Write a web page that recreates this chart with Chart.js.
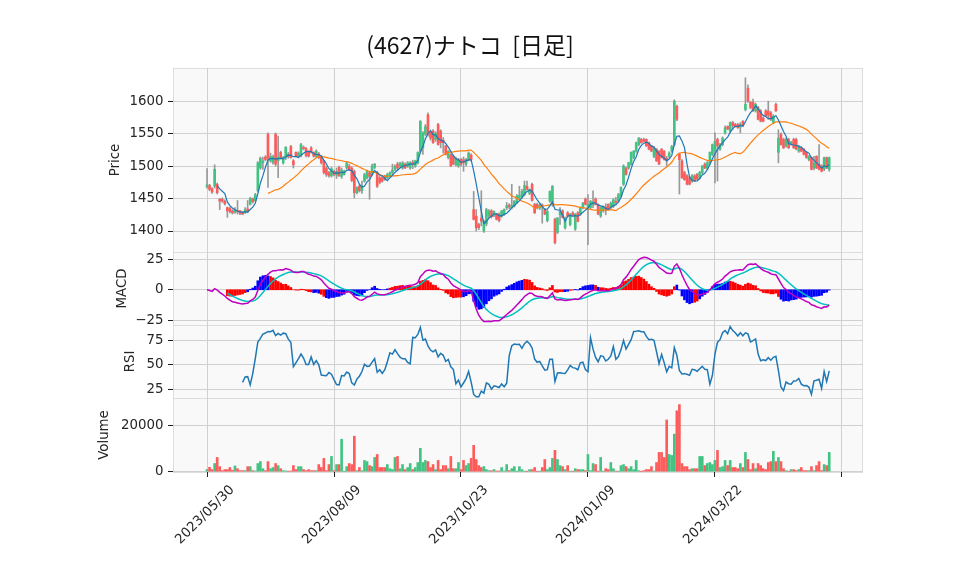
<!DOCTYPE html>
<html>
<head>
<meta charset="utf-8">
<script src="https://cdn.jsdelivr.net/npm/chart.js@4.4.1/dist/chart.umd.min.js"></script>
<style>
  body { margin: 0; background: #fff; }
  #wrap { position: relative; width: 958px; height: 575px; }
  #wrap canvas { position: absolute; left: 0; top: 0; }
  #title { position: absolute; left: 270px; width: 400px; top: 28px; text-align: center;
           font: 23px "Noto Sans CJK JP", sans-serif; color: #111; line-height: 32px; }
</style>
</head>
<body>
<div id="wrap">
  <canvas id="cPrice" width="958" height="575"></canvas>
  <canvas id="cMacd" width="958" height="575"></canvas>
  <canvas id="cRsi" width="958" height="575"></canvas>
  <canvas id="cVol" width="958" height="575"></canvas>
  <div id="title">(4627)ナトコ&nbsp; [日足]</div>
</div>
<script>
// x ticks (bar index) and their date labels
const tickPos = [0, 50, 100, 150, 200, 250];
const tickLabels = ['2023/05/30', '2023/08/09', '2023/10/23', '2024/01/09', '2024/03/22', ''];

const priceTicks = [1400, 1450, 1500, 1550, 1600];
const macdTicks = [-25, 0, 25];
const rsiTicks = [25, 50, 75];
const volTicks = [0, 20000];

// daily candles
const opens = [1468,1470,1465,1469,1472,1449,1449,1446,1436,1435,1431,1429,1432,1431,1429,1428,1434,1441,1450,1447,
  1462,1497,1505,1514,1549,1508,1505,1549,1508,1521,1505,1513,1518,1530,1508,1521,1515,1516,1529,1527,
  1523,1528,1521,1515,1519,1515,1508,1497,1490,1485,1492,1486,1498,1484,1487,1497,1500,1497,1492,1459,
  1469,1462,1477,1482,1490,1487,1498,1490,1482,1482,1485,1482,1485,1490,1495,1503,1500,1497,1503,1500,
  1497,1506,1500,1505,1523,1528,1549,1579,1551,1554,1541,1564,1554,1540,1531,1513,1518,1515,1502,1500,
  1510,1510,1503,1510,1517,1433,1423,1410,1420,1400,1411,1423,1431,1424,1426,1426,1423,1426,1436,1440,
  1436,1439,1444,1451,1452,1456,1469,1458,1472,1441,1441,1435,1440,1433,1416,1446,1441,1418,1398,1425,
  1431,1405,1428,1410,1428,1403,1428,1426,1436,1449,1436,1436,1440,1449,1441,1423,1431,1437,1441,1436,
  1438,1446,1446,1454,1472,1497,1497,1503,1513,1523,1533,1541,1541,1541,1536,1531,1515,1526,1523,1526,
  1523,1512,1515,1523,1533,1592,1518,1508,1490,1485,1482,1477,1485,1487,1482,1490,1503,1497,1505,1518,
  1523,1541,1526,1533,1551,1561,1554,1567,1564,1564,1560,1569,1587,1620,1598,1598,1585,1590,1585,1574,
  1585,1585,1582,1567,1595,1521,1549,1541,1531,1541,1534,1541,1541,1523,1528,1526,1521,1510,1513,1497,
  1515,1503,1500,1495,1513,1495];
const highs = [1496,1472,1467,1502,1474,1450,1451,1448,1437,1437,1433,1436,1447,1432,1430,1436,1447,1452,1451,1458,
  1507,1514,1514,1516,1551,1520,1517,1551,1546,1523,1515,1530,1521,1532,1510,1522,1522,1535,1531,1529,
  1524,1530,1522,1525,1521,1516,1509,1500,1492,1498,1494,1497,1500,1497,1494,1506,1503,1499,1494,1468,
  1471,1477,1489,1494,1491,1503,1504,1492,1484,1484,1486,1489,1491,1503,1502,1506,1506,1507,1505,1507,
  1507,1509,1509,1522,1570,1553,1564,1582,1553,1556,1553,1566,1556,1544,1532,1524,1519,1517,1514,1512,
  1512,1514,1512,1522,1519,1461,1433,1412,1462,1417,1435,1433,1433,1431,1427,1428,1432,1434,1444,1442,
  1472,1447,1456,1469,1464,1477,1477,1465,1474,1443,1443,1442,1442,1435,1432,1462,1470,1420,1421,1436,
  1433,1422,1430,1427,1430,1427,1430,1437,1444,1451,1456,1447,1462,1451,1442,1437,1439,1442,1442,1445,
  1450,1452,1458,1468,1502,1499,1506,1522,1524,1537,1544,1543,1543,1542,1537,1532,1530,1527,1524,1527,
  1524,1515,1522,1532,1602,1594,1520,1510,1492,1487,1484,1487,1487,1489,1492,1501,1505,1507,1522,1534,
  1551,1543,1535,1545,1562,1562,1568,1569,1566,1566,1567,1570,1636,1625,1600,1603,1597,1592,1587,1576,
  1587,1600,1584,1579,1597,1556,1551,1543,1543,1543,1538,1543,1543,1532,1530,1527,1522,1516,1514,1515,
  1516,1533,1502,1514,1514,1514];
const lows = [1466,1462,1458,1466,1457,1433,1444,1440,1421,1428,1426,1427,1426,1425,1425,1427,1428,1440,1443,1446,
  1460,1495,1495,1508,1467,1506,1503,1500,1482,1511,1503,1510,1512,1512,1497,1514,1513,1514,1525,1514,
  1514,1520,1514,1513,1511,1503,1488,1484,1483,1483,1485,1481,1484,1481,1486,1495,1494,1476,1451,1457,
  1460,1458,1475,1480,1449,1485,1496,1467,1473,1475,1478,1480,1483,1486,1493,1494,1498,1495,1496,1498,
  1495,1496,1498,1503,1520,1518,1547,1546,1540,1535,1538,1532,1528,1520,1517,1511,1499,1502,1500,1498,
  1500,1492,1500,1508,1508,1417,1400,1402,1408,1398,1408,1420,1420,1422,1417,1414,1421,1424,1433,1434,
  1434,1437,1442,1448,1450,1454,1463,1456,1446,1427,1434,1433,1412,1425,1414,1444,1438,1380,1396,1410,
  1420,1403,1422,1408,1422,1401,1414,1424,1434,1440,1379,1434,1436,1440,1425,1421,1429,1425,1433,1434,
  1436,1440,1444,1452,1470,1486,1495,1501,1511,1521,1531,1535,1537,1530,1525,1522,1513,1507,1502,1512,
  1509,1500,1513,1521,1531,1570,1457,1481,1478,1471,1471,1475,1476,1479,1480,1488,1496,1495,1503,1516,
  1474,1477,1524,1531,1549,1556,1552,1556,1560,1558,1551,1561,1585,1598,1588,1584,1583,1571,1568,1568,
  1576,1572,1570,1565,1584,1505,1532,1527,1529,1527,1532,1527,1525,1521,1522,1517,1512,1508,1494,1494,
  1496,1494,1491,1493,1496,1492];
const closes = [1471,1464,1460,1495,1459,1446,1446,1442,1431,1430,1428,1433,1430,1427,1426,1433,1430,1450,1445,1456,
  1505,1512,1508,1510,1512,1515,1514,1503,1514,1513,1513,1529,1515,1513,1502,1516,1520,1533,1527,1516,
  1515,1521,1515,1523,1513,1505,1490,1487,1485,1496,1487,1492,1485,1494,1492,1505,1495,1478,1459,1467,
  1462,1470,1487,1492,1484,1500,1503,1469,1475,1477,1480,1487,1490,1494,1500,1497,1504,1505,1497,1505,
  1505,1503,1508,1521,1569,1551,1561,1549,1543,1536,1551,1533,1536,1536,1518,1523,1500,1503,1512,1510,
  1503,1505,1510,1520,1510,1418,1405,1405,1415,1415,1433,1431,1422,1430,1418,1416,1431,1433,1439,1437,
  1440,1446,1454,1455,1461,1470,1464,1464,1447,1428,1436,1440,1437,1426,1430,1461,1469,1382,1420,1430,
  1421,1420,1423,1426,1424,1426,1415,1436,1443,1441,1441,1446,1445,1441,1426,1436,1438,1433,1434,1443,
  1448,1444,1456,1467,1500,1487,1505,1521,1523,1536,1543,1536,1538,1531,1526,1523,1528,1508,1503,1513,
  1510,1508,1520,1530,1600,1572,1510,1482,1479,1472,1472,1485,1477,1480,1490,1500,1497,1505,1521,1533,
  1538,1531,1533,1543,1559,1557,1567,1562,1561,1559,1564,1562,1595,1600,1590,1585,1595,1572,1569,1569,
  1577,1578,1572,1577,1585,1543,1533,1528,1541,1528,1537,1528,1526,1531,1523,1518,1513,1515,1495,1505,
  1497,1495,1492,1513,1497,1513];
const volumes = [900,1900,900,3550,6200,2200,450,900,900,1800,600,2500,1300,450,450,450,2200,2200,450,300,
  3550,4400,1300,450,4400,1300,1800,3550,2650,1300,450,300,150,300,2650,900,2200,2200,900,450,
  900,450,450,450,3100,1800,5800,450,3100,6650,450,3100,3100,14200,150,2200,3550,3100,15500,450,
  1800,450,4900,4400,2650,2200,6200,7500,1800,1800,1800,3100,1300,900,6200,6650,1300,3100,900,1800,
  3550,900,1800,4000,10200,4000,4900,4400,1800,3100,900,4900,900,2650,2650,1300,6650,1300,1300,4000,
  900,4900,2650,3550,5800,11500,5300,2650,1800,2200,900,450,450,900,300,300,1800,300,3100,450,
  1300,2200,150,2200,900,150,150,900,900,1800,150,150,1800,5300,900,1800,5800,9300,5300,2650,
  2200,900,2650,150,150,1300,900,900,900,450,7500,450,3550,3100,150,6200,150,1300,900,4000,
  1300,300,150,2650,3100,2200,1300,2200,900,4900,450,150,450,900,900,2200,300,4000,8400,8400,
  6200,22600,7500,7100,16400,26600,29300,3550,2200,2200,900,1300,1300,1300,6650,6650,2650,3550,4000,3100,
  4900,9300,1800,2200,4900,2650,4900,1800,1800,1300,3550,1800,8400,5300,900,3550,1300,3550,2650,1300,
  900,4000,4400,8900,4400,6200,4400,1300,450,150,900,900,450,900,1800,450,450,450,2200,450,
  2650,4400,450,3100,2650,8400];

const UP = '#43c383', DOWN = '#fe5b5b';

// indicators
function sma(arr, n) {
  return arr.map((v, i) => {
    if (i < n - 1) return null;
    let s = 0;
    for (let j = i - n + 1; j <= i; j++) s += arr[j];
    return s / n;
  });
}
function ema(arr, n) {
  const k = 2 / (n + 1);
  let prev = null;
  return arr.map(v => { prev = prev === null ? v : v * k + prev * (1 - k); return prev; });
}
const ma5 = sma(closes, 5);
const ma25 = sma(closes, 25);
const e12 = ema(closes, 12), e26 = ema(closes, 26);
const macd = closes.map((c, i) => e12[i] - e26[i]);
const sigFull = ema(macd, 9);
const signal = sigFull.map((v, i) => i < 8 ? null : v);
const hist = macd.map((m, i) => signal[i] === null ? null : m - signal[i]);
const rsi = closes.map((c, i) => {
  if (i < 14) return null;
  let g = 0, l = 0;
  for (let j = i - 13; j <= i; j++) {
    const d = closes[j] - closes[j - 1];
    if (d > 0) g += d; else l -= d;
  }
  return l === 0 ? 100 : 100 - 100 / (1 + g / l);
});

const isUp = closes.map((c, i) => c >= opens[i]);
const pts = arr => arr.map((v, i) => ({ x: i, y: v })).filter(p => p.y !== null);

Chart.defaults.font.family = '"DejaVu Sans", sans-serif';
Chart.defaults.font.size = 13.33;
Chart.defaults.color = '#262626';

const panelBg = {
  id: 'panelBg',
  beforeDraw(chart) {
    const { ctx, chartArea: a } = chart;
    ctx.save();
    ctx.fillStyle = '#f9f9f9';
    ctx.fillRect(a.left, a.top, a.right - a.left, a.bottom - a.top);
    ctx.strokeStyle = '#dddddd';
    ctx.lineWidth = 1;
    // bottom edge lands on the next panel's top edge
    ctx.strokeRect(a.left + 0.5, a.top + 0.5, a.right - a.left - 1, a.bottom - a.top);
    ctx.restore();
  }
};

// rotated date labels, centred on the tick like matplotlib
const xLabels = {
  id: 'xLabels',
  afterDraw(chart) {
    const s = chart.scales.x, ctx = chart.ctx;
    ctx.save();
    ctx.font = '13.33px "DejaVu Sans", sans-serif';
    ctx.fillStyle = '#262626';
    ctx.textAlign = 'center';
    ctx.textBaseline = 'middle';
    tickPos.forEach((v, i) => {
      if (!tickLabels[i]) return;
      ctx.save();
      ctx.translate(s.getPixelForValue(v) - 2, 515);
      ctx.rotate(-Math.PI / 4);
      ctx.fillText(tickLabels[i], 0, 0);
      ctx.restore();
    });
    ctx.restore();
  }
};

const fmt = v => v < 0 ? '\u2212' + Math.abs(v) : String(v);

function xScale(bottom) {
  return {
    type: 'linear', min: -13.4, max: 258.3, offset: false,
    afterBuildTicks: s => { s.ticks = tickPos.map(v => ({ value: v })); },
    afterFit: s => { s.height = bottom ? 103 : 0; },
    grid: { color: '#d0d0d0', offset: false, drawTicks: bottom, tickLength: 5, tickColor: '#222' },
    border: { display: false },
    ticks: { display: false }
  };
}
function yScale(title, left, min, max, ticks) {
  return {
    position: 'left', min, max,
    afterBuildTicks: s => { s.ticks = ticks.map(v => ({ value: v })); },
    afterFit: s => { s.width = 173 - left; },
    grid: { color: '#d0d0d0', tickLength: 5, tickColor: '#222' },
    border: { display: false },
    ticks: { padding: 4.5, callback: v => fmt(v) },
    title: { display: true, text: title, padding: 0, color: '#262626' }
  };
}
function baseOptions(left, top, bottom, scales) {
  return {
    responsive: false, animation: false, events: [],
    layout: { padding: { left, right: 95, top, bottom } },
    plugins: { legend: { display: false }, tooltip: { enabled: false } },
    scales
  };
}

// price panel
new Chart(document.getElementById('cPrice'), {
  type: 'bar',
  data: {
    datasets: [
      { type: 'line', data: pts(ma5), borderColor: '#1f77b4', borderWidth: 1.2, pointRadius: 0, order: 1 },
      { type: 'line', data: pts(ma25), borderColor: '#ff7f0e', borderWidth: 1.2, pointRadius: 0, order: 1 },
      { data: closes.map((c, i) => ({ x: i, y: [Math.min(opens[i], c), Math.max(opens[i], c)] })),
        backgroundColor: isUp.map(u => u ? UP : DOWN), barThickness: 2, minBarLength: 1, grouped: false, order: 2 },
      { data: closes.map((c, i) => ({ x: i, y: [lows[i], highs[i]] })),
        backgroundColor: '#999999', barThickness: 1, grouped: false, order: 3 }
    ]
  },
  options: baseOptions(107.5, 68, 575 - 252, {
    x: xScale(false), y: yScale('Price', 107.5, 1367.7, 1651, priceTicks)
  }),
  plugins: [panelBg]
});

// MACD panel; histogram on its own hidden axis
const hMax = Math.max(...hist.filter(v => v !== null).map(Math.abs));
const hs = hMax / 16;
new Chart(document.getElementById('cMacd'), {
  type: 'bar',
  data: {
    datasets: [
      { type: 'line', data: pts(macd), borderColor: '#c000c0', borderWidth: 1.5, pointRadius: 0, order: 1 },
      { type: 'line', data: pts(signal), borderColor: '#00c0c0', borderWidth: 1.5, pointRadius: 0, order: 1 },
      { data: pts(hist), yAxisID: 'yh', backgroundColor: hist.map(v => v >= 0 ? '#ff0000' : '#0000ff'),
        barThickness: 2, grouped: false, order: 2 }
    ]
  },
  options: baseOptions(115, 252, 575 - 325, {
    x: xScale(false), y: yScale('MACD', 115, -28.9, 31, macdTicks),
    yh: { display: false, min: -28.9 * hs, max: 31 * hs }
  }),
  plugins: [panelBg]
});

// RSI panel
new Chart(document.getElementById('cRsi'), {
  type: 'line',
  data: { datasets: [{ data: pts(rsi), borderColor: '#1f77b4', borderWidth: 1.5, pointRadius: 0 }] },
  options: baseOptions(123, 325, 575 - 398, {
    x: xScale(false), y: yScale('RSI', 123, 15.9, 91.1, rsiTicks)
  }),
  plugins: [panelBg]
});

// volume panel
new Chart(document.getElementById('cVol'), {
  type: 'bar',
  data: {
    datasets: [{ data: volumes.map((v, i) => ({ x: i, y: v })),
      backgroundColor: isUp.map(u => u ? UP : DOWN), barThickness: 2, grouped: false }]
  },
  options: baseOptions(96.5, 398, 0, {
    x: xScale(true), y: yScale('Volume', 96.5, -150, 32200, volTicks)
  }),
  plugins: [panelBg, xLabels]
});
</script>
</body>
</html>
